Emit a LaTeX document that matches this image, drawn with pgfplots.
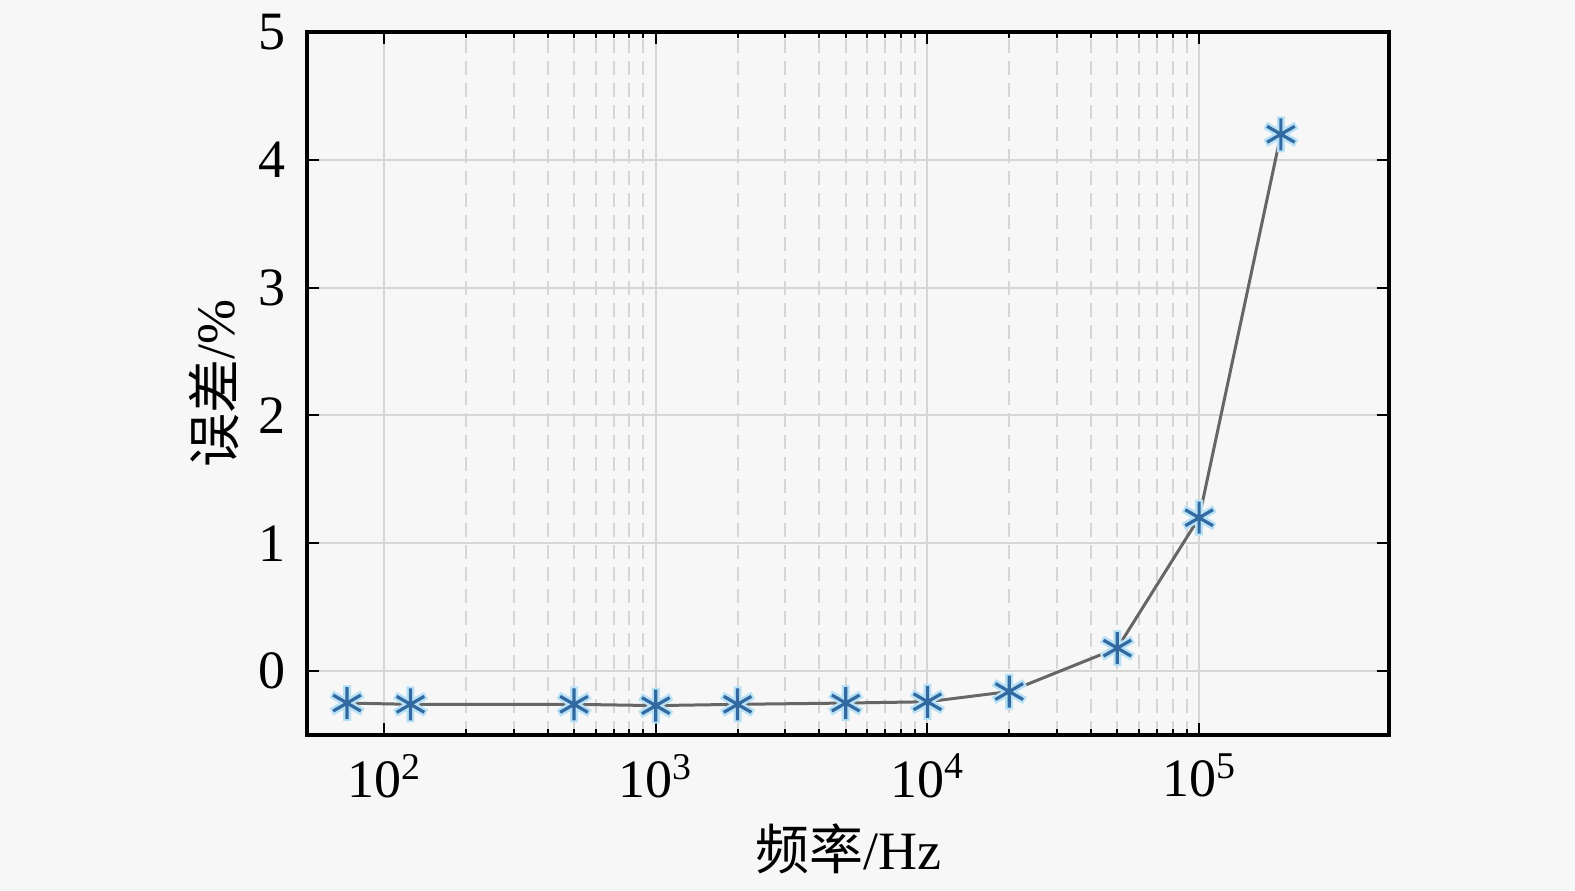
\documentclass[border=0pt]{standalone}
\usepackage{pgfplots}
\pgfplotsset{compat=1.18}
\usepackage{fontspec}
\setmainfont{Liberation Serif}
\newfontfamily\cjk{Noto Sans CJK SC}
\definecolor{mk}{RGB}{50,105,160}
\definecolor{halo}{RGB}{185,225,245}
\begin{document}
\begin{tikzpicture}[x=1pt,y=1pt]
\fill[black!3] (-152.5,-77.5) rectangle (635,367.5);
\useasboundingbox (-152.5,-77.5) rectangle (635,367.5);
\begin{axis}[
  at={(1pt,0)}, anchor=south west,
  scale only axis, width=541pt, height=351.5pt,
  xmode=log, xmin=52, xmax=5e5, ymin=-0.5, ymax=5,
  axis background/.style={fill=black!3},
  axis line style={line width=1.6pt},
  tick align=inside, ticks=both,
  major tick length=6pt, minor tick length=3pt,
  every tick/.style={black, line width=1pt},
  xtick={100,1000,10000,100000},
  xticklabels={10\textsuperscript{2},10\textsuperscript{3},10\textsuperscript{4},10\textsuperscript{5}},
  ytick={0,1,2,3,4,5},
  /pgf/number format/assume math mode=true,
  tick label style={font=\fontsize{27}{30}\selectfont},
  xticklabel style={yshift=-6pt},
  yticklabel style={xshift=-7pt},
  grid=both,
  major grid style={black!16, line width=1pt},
  minor grid style={black!16, line width=1pt, dash pattern=on 7pt off 4pt},
  xlabel={{\cjk 频率}/Hz},
  ylabel={{\cjk 误差}/\%},
  label style={font=\fontsize{27}{30}\selectfont},
  xlabel style={yshift=-6pt},
  ylabel style={yshift=3pt},
  clip=false,
]
\addplot[color=black!60, line width=1.5pt, mark=asterisk, mark size=9pt,
  mark options={halo, line width=4pt, solid}] coordinates {
(73,-0.25) (125,-0.26) (500,-0.26) (1000,-0.27) (2000,-0.26) (5000,-0.25) (10000,-0.24) (20000,-0.16) (50000,0.18) (100000,1.2) (200000,4.2)
};
\addplot[only marks, mark=asterisk, mark size=8pt,
  mark options={mk, line width=1.6pt}] coordinates {
(73,-0.25) (125,-0.26) (500,-0.26) (1000,-0.27) (2000,-0.26) (5000,-0.25) (10000,-0.24) (20000,-0.16) (50000,0.18) (100000,1.2) (200000,4.2)
};
\end{axis}
\end{tikzpicture}
\end{document}
